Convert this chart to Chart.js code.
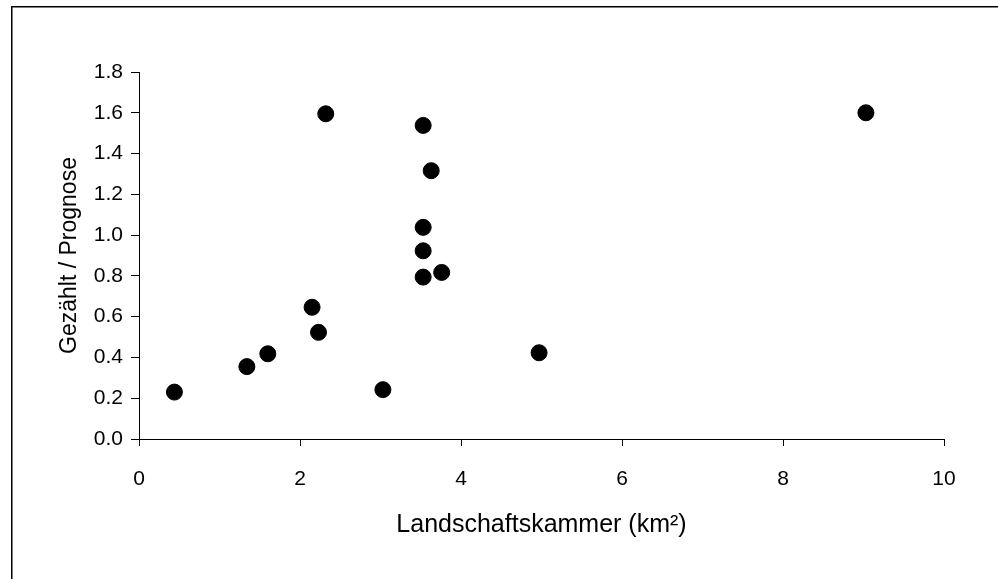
<!DOCTYPE html>
<html>
<head>
<meta charset="utf-8">
<script src="https://cdn.jsdelivr.net/npm/chart.js@4"></script>
<style>
    html, body { margin: 0; padding: 0; background: #fff; }
    #wrap { width: 998px; height: 579px; position: relative; }
</style>
</head>
<body>
<div id="wrap"><canvas id="scatter-chart"></canvas></div>
<script>
// Landschaftskammer (km2) vs. Gezählt / Prognose
const areaKm2 = [0.44, 1.34, 1.60, 2.15, 2.23, 2.32, 3.03, 3.53, 3.53, 3.53, 3.53, 3.63, 3.76, 4.97, 9.03];
const ratio   = [0.23, 0.355, 0.418, 0.646, 0.523, 1.595, 0.242, 1.538, 1.038, 0.923, 0.794, 1.316, 0.817, 0.423, 1.60];

const xTicks = [0, 2, 4, 6, 8, 10];
const yTicks = [0.0, 0.2, 0.4, 0.6, 0.8, 1.0, 1.2, 1.4, 1.6, 1.8];

const fontFamily = '"Liberation Sans", Arial, sans-serif';

// thin frame round the whole picture (runs off the right and bottom edges)
const framePlugin = {
    id: 'frame',
    beforeDraw(chart) {
        const ctx = chart.ctx;
        ctx.save();
        ctx.strokeStyle = '#000';
        ctx.lineWidth = 1.5;
        ctx.beginPath();
        ctx.moveTo(11.75, chart.height + 5);
        ctx.lineTo(11.75, 6.75);
        ctx.lineTo(chart.width + 5, 6.75);
        ctx.stroke();
        ctx.restore();
    }
};

const points = areaKm2.map((x, i) => ({ x: x, y: ratio[i] }));

const ctx = document.getElementById('scatter-chart').getContext('2d');
new Chart(ctx, {
    type: 'scatter',
    data: {
        datasets: [{
            data: points,
            backgroundColor: '#000',
            borderColor: '#000',
            pointRadius: 8,
            pointHoverRadius: 8,
        }],
    },
    options: {
        responsive: true,
        maintainAspectRatio: false,
        animation: false,
        events: [],
        layout: {
            padding: { left: 0, top: 72, right: 54, bottom: 0 },
        },
        plugins: {
            legend: { display: false },
            tooltip: { enabled: false },
        },
        scales: {
            x: {
                type: 'linear',
                min: 0,
                max: 10,
                afterBuildTicks: (scale) => { scale.ticks = xTicks.map(v => ({ value: v })); },
                afterFit: (scale) => { scale.height = 140; },
                grid: { drawOnChartArea: false, drawTicks: true, tickLength: 7, color: '#000' },
                border: { display: true, color: '#000', width: 1 },
                ticks: {
                    color: '#000',
                    padding: 21,
                    maxRotation: 0,
                    font: { family: fontFamily, size: 21 },
                    callback: (v) => String(v),
                },
                title: {
                    display: true,
                    text: 'Landschaftskammer (km²)',
                    color: '#000',
                    font: { family: fontFamily, size: 25 },
                    padding: { top: 0, bottom: 39 },
                },
            },
            y: {
                type: 'linear',
                min: 0,
                max: 1.8,
                afterBuildTicks: (scale) => { scale.ticks = yTicks.map(v => ({ value: v })); },
                afterFit: (scale) => { scale.width = 139; },
                grid: { drawOnChartArea: false, drawTicks: true, tickLength: 8, color: '#000' },
                border: { display: true, color: '#000', width: 1 },
                ticks: {
                    color: '#000',
                    padding: 8,
                    font: { family: fontFamily, size: 21 },
                    callback: (v) => Number(v).toFixed(1),
                },
                title: {
                    display: true,
                    text: 'Gezählt / Prognose',
                    color: '#000',
                    font: { family: fontFamily, size: 23 },
                    padding: { top: 56, bottom: 0 },
                },
            },
        },
    },
    plugins: [framePlugin],
});
</script>
</body>
</html>
